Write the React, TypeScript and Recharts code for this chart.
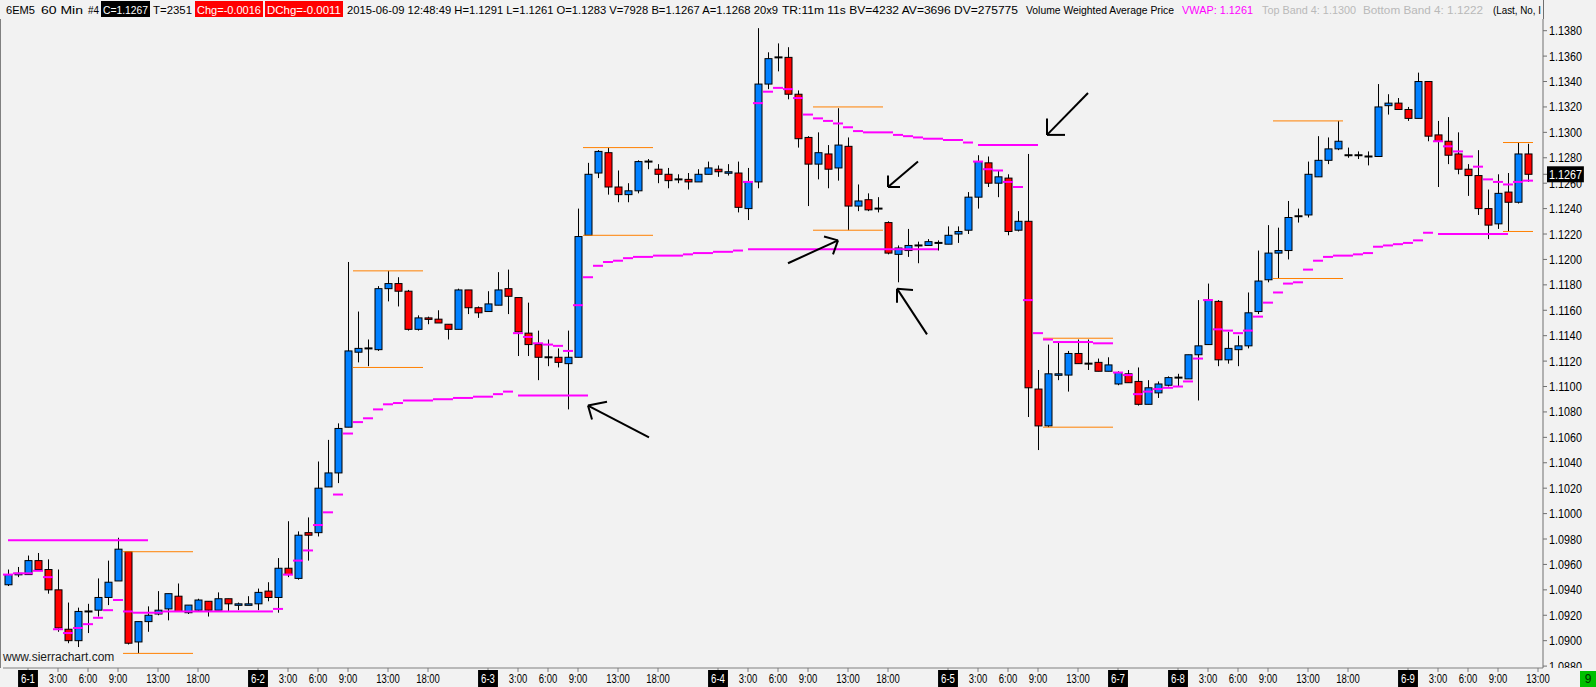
import React from "react";
import { ComposedChart, Bar, Line, XAxis, YAxis, ReferenceLine } from "recharts";

// ======================
// 6EM5 60 Min candles (bar 0 = 5-31 22:00, bar 152 = 6-9 12:00)
// ======================
const opens = [
  1.0944, 1.0952, 1.0952, 1.0963, 1.0956, 1.0940, 1.0909, 1.0900, 1.0923, 1.0924,
  1.0934, 1.0947, 1.0970, 1.0899, 1.0915, 1.0921, 1.0925, 1.0935, 1.0922, 1.0924,
  1.0931, 1.0924, 1.0933, 1.0928, 1.0928, 1.0929, 1.0939, 1.0934, 1.0957, 1.0949,
  1.0985, 1.0985, 1.1021, 1.1032, 1.1068, 1.1127, 1.1130, 1.1129, 1.1177, 1.1181,
  1.1175, 1.1145, 1.1154, 1.1153, 1.1149, 1.1145, 1.1176, 1.1162, 1.1159, 1.1164,
  1.1177, 1.1170, 1.1142, 1.1133, 1.1123, 1.1123, 1.1118, 1.1123, 1.1219, 1.1268,
  1.1284, 1.1257, 1.1251, 1.1254, 1.1277, 1.1271, 1.1267, 1.1263, 1.1263, 1.1261,
  1.1267, 1.1271, 1.1268, 1.1268, 1.1240, 1.1261, 1.1338, 1.1359, 1.1359, 1.1330,
  1.1296, 1.1275, 1.1283, 1.1272, 1.1289, 1.1242, 1.1247, 1.1240, 1.1229, 1.1204,
  1.1207, 1.1211, 1.1211, 1.1213, 1.1212, 1.1220, 1.1223, 1.1249, 1.1276, 1.1260,
  1.1264, 1.1223, 1.1230, 1.1098, 1.1069, 1.1109, 1.1109, 1.1126, 1.1118, 1.1119,
  1.1112, 1.1102, 1.1110, 1.1104, 1.1086, 1.1095, 1.1101, 1.1107, 1.1106, 1.1125,
  1.1133, 1.1167, 1.1121, 1.1129, 1.1132, 1.1159, 1.1184, 1.1205, 1.1207, 1.1234,
  1.1235, 1.1265, 1.1278, 1.1287, 1.1282, 1.1282, 1.1281, 1.1281, 1.1321, 1.1323,
  1.1318, 1.1311, 1.1340, 1.1298, 1.1293, 1.1283, 1.1271, 1.1266, 1.1240, 1.1228,
  1.1253, 1.1245, 1.1283,
];
const highs = [
  1.0956, 1.0958, 1.0967, 1.0969, 1.0964, 1.0956, 1.0930, 1.0926, 1.0929, 1.0949,
  1.0963, 1.0981, 1.0970, 1.0915, 1.0927, 1.0939, 1.0937, 1.0945, 1.0928, 1.0933,
  1.0931, 1.0938, 1.0933, 1.0930, 1.0935, 1.0941, 1.0946, 1.0965, 1.0994, 1.0986,
  1.0997, 1.1041, 1.1058, 1.1071, 1.1198, 1.1159, 1.1137, 1.1179, 1.1191, 1.1186,
  1.1176, 1.1156, 1.1155, 1.1160, 1.1149, 1.1177, 1.1176, 1.1163, 1.1175, 1.1190,
  1.1192, 1.1170, 1.1166, 1.1144, 1.1137, 1.1130, 1.1144, 1.1240, 1.1276, 1.1286,
  1.1288, 1.1270, 1.1260, 1.1278, 1.1279, 1.1275, 1.1272, 1.1267, 1.1268, 1.1271,
  1.1277, 1.1274, 1.1275, 1.1277, 1.1272, 1.1382, 1.1363, 1.1370, 1.1367, 1.1333,
  1.1297, 1.1300, 1.1290, 1.1319, 1.1296, 1.1259, 1.1252, 1.1249, 1.1230, 1.1211,
  1.1224, 1.1214, 1.1216, 1.1215, 1.1226, 1.1226, 1.1253, 1.1282, 1.1281, 1.1270,
  1.1267, 1.1238, 1.1283, 1.1113, 1.1133, 1.1135, 1.1128, 1.1137, 1.1137, 1.1122,
  1.1123, 1.1112, 1.1113, 1.1115, 1.1105, 1.1104, 1.1108, 1.1110, 1.1125, 1.1168,
  1.1181, 1.1168, 1.1143, 1.1140, 1.1174, 1.1207, 1.1227, 1.1225, 1.1246, 1.1240,
  1.1277, 1.1297, 1.1296, 1.1309, 1.1288, 1.1285, 1.1285, 1.1338, 1.1330, 1.1327,
  1.1320, 1.1347, 1.1340, 1.1309, 1.1312, 1.1300, 1.1275, 1.1286, 1.1255, 1.1267,
  1.1268, 1.1292, 1.1291,
];
const lows = [
  1.0943, 1.0950, 1.0952, 1.0956, 1.0937, 1.0907, 1.0898, 1.0895, 1.0906, 1.0919,
  1.0928, 1.0947, 1.0897, 1.0890, 1.0907, 1.0920, 1.0916, 1.0923, 1.0921, 1.0923,
  1.0919, 1.0924, 1.0923, 1.0924, 1.0928, 1.0924, 1.0931, 1.0922, 1.0950, 1.0948,
  1.0963, 1.0982, 1.1021, 1.1024, 1.1068, 1.1119, 1.1116, 1.1128, 1.1167, 1.1163,
  1.1144, 1.1144, 1.1149, 1.1150, 1.1137, 1.1145, 1.1157, 1.1154, 1.1159, 1.1164,
  1.1157, 1.1124, 1.1124, 1.1105, 1.1116, 1.1115, 1.1082, 1.1123, 1.1219, 1.1264,
  1.1251, 1.1245, 1.1245, 1.1252, 1.1271, 1.1260, 1.1256, 1.1260, 1.1255, 1.1261,
  1.1267, 1.1265, 1.1266, 1.1237, 1.1231, 1.1256, 1.1334, 1.1348, 1.1326, 1.1288,
  1.1242, 1.1263, 1.1256, 1.1262, 1.1223, 1.1238, 1.1238, 1.1237, 1.1204, 1.1182,
  1.1202, 1.1197, 1.1211, 1.1207, 1.1212, 1.1213, 1.1220, 1.1240, 1.1257, 1.1249,
  1.1219, 1.1222, 1.1076, 1.1050, 1.1068, 1.1105, 1.1096, 1.1118, 1.1113, 1.1112,
  1.1112, 1.1101, 1.1103, 1.1085, 1.1086, 1.1091, 1.1100, 1.1100, 1.1106, 1.1089,
  1.1133, 1.1116, 1.1118, 1.1116, 1.1130, 1.1157, 1.1182, 1.1185, 1.1200, 1.1229,
  1.1233, 1.1265, 1.1275, 1.1286, 1.1280, 1.1279, 1.1274, 1.1281, 1.1314, 1.1318,
  1.1309, 1.1311, 1.1293, 1.1257, 1.1275, 1.1267, 1.1250, 1.1235, 1.1216, 1.1224,
  1.1222, 1.1244, 1.1261,
];
const closes = [
  1.0952, 1.0953, 1.0963, 1.0956, 1.0940, 1.0910, 1.0900, 1.0923, 1.0923, 1.0934,
  1.0946, 1.0972, 1.0898, 1.0915, 1.0920, 1.0924, 1.0937, 1.0923, 1.0928, 1.0932,
  1.0924, 1.0933, 1.0929, 1.0929, 1.0929, 1.0938, 1.0934, 1.0957, 1.0952, 1.0983,
  1.0983, 1.1020, 1.1032, 1.1067, 1.1128, 1.1130, 1.1130, 1.1177, 1.1181, 1.1175,
  1.1145, 1.1154, 1.1153, 1.1150, 1.1145, 1.1176, 1.1162, 1.1158, 1.1165, 1.1176,
  1.1171, 1.1143, 1.1133, 1.1123, 1.1123, 1.1119, 1.1123, 1.1218, 1.1267, 1.1285,
  1.1257, 1.1251, 1.1254, 1.1277, 1.1277, 1.1267, 1.1262, 1.1263, 1.1261, 1.1267,
  1.1272, 1.1269, 1.1269, 1.1241, 1.1261, 1.1338, 1.1358, 1.1359, 1.1330, 1.1295,
  1.1275, 1.1284, 1.1271, 1.1290, 1.1242, 1.1246, 1.1239, 1.1240, 1.1205, 1.1209,
  1.1211, 1.1211, 1.1214, 1.1213, 1.1219, 1.1222, 1.1249, 1.1277, 1.1260, 1.1265,
  1.1222, 1.1230, 1.1099, 1.1069, 1.1110, 1.1110, 1.1126, 1.1118, 1.1118, 1.1112,
  1.1117, 1.1111, 1.1103, 1.1086, 1.1099, 1.1102, 1.1107, 1.1107, 1.1125, 1.1132,
  1.1168, 1.1121, 1.1130, 1.1132, 1.1158, 1.1183, 1.1205, 1.1207, 1.1233, 1.1234,
  1.1267, 1.1278, 1.1287, 1.1293, 1.1282, 1.1282, 1.1281, 1.1320, 1.1323, 1.1318,
  1.1311, 1.1340, 1.1297, 1.1293, 1.1282, 1.1271, 1.1266, 1.1240, 1.1227, 1.1252,
  1.1245, 1.1283, 1.1267,
];
// Volume Weighted Average Price, one dash per bar
const vwapValues = [
  1.0952, 1.0953, 1.0953, 1.0955, 1.0950, 1.0909, 1.0906, 1.0910, 1.0913, 1.0918,
  1.0924, 1.0932, 1.0923, 1.0922, 1.0922, 1.0922, 1.0923, 1.0923, 1.0923, 1.0923,
  1.0923, 1.0923, 1.0923, 1.0923, 1.0923, 1.0923, 1.0923, 1.0925, 1.0952, 1.0963,
  1.0971, 1.0991, 1.1001, 1.1015, 1.1063, 1.1072, 1.1075, 1.1082, 1.1086, 1.1087,
  1.1089, 1.1089, 1.1089, 1.1090, 1.1090, 1.1091, 1.1091, 1.1092, 1.1092, 1.1094,
  1.1096, 1.1142, 1.1139, 1.1134, 1.1133, 1.1132, 1.1128, 1.1164, 1.1186, 1.1195,
  1.1198, 1.1199, 1.1201, 1.1202, 1.1202, 1.1203, 1.1203, 1.1203, 1.1204, 1.1205,
  1.1205, 1.1206, 1.1206, 1.1207, 1.1261, 1.1323, 1.1332, 1.1335, 1.1334, 1.1327,
  1.1314, 1.1311, 1.1309, 1.1307, 1.1304, 1.1301, 1.1300, 1.1300, 1.1300, 1.1298,
  1.1297, 1.1296, 1.1295, 1.1295, 1.1294, 1.1294, 1.1292, 1.1277, 1.1271, 1.1270,
  1.1261, 1.1257, 1.1168, 1.1142, 1.1137, 1.1135, 1.1135, 1.1135, 1.1135, 1.1134,
  1.1134, 1.1111, 1.1109, 1.1094, 1.1096, 1.1098, 1.1099, 1.1100, 1.1104, 1.1122,
  1.1168, 1.1145, 1.1144, 1.1142, 1.1144, 1.1155, 1.1166, 1.1174, 1.1181, 1.1182,
  1.1192, 1.1199, 1.1202, 1.1203, 1.1203, 1.1204, 1.1205, 1.1210, 1.1211, 1.1212,
  1.1213, 1.1215, 1.1221, 1.1293, 1.1289, 1.1285, 1.1281, 1.1273, 1.1263, 1.1261,
  1.1259, 1.1261, 1.1262,
];

// prior session VWAP carried forward: [fromBar, toBar, price]
const vwapExtensions = [
  [0, 14, 1.0979],
  [51, 58, 1.1093],
  [74, 93, 1.1208],
  [97, 103, 1.129],
  [143, 150, 1.122],
];

// orange range lines: [firstBar, lastBar, high, low]
const rangeLines = [
  [12, 18, 1.097, 1.089],
  [35, 41, 1.1191, 1.1115],
  [58, 64, 1.1288, 1.1219],
  [81, 87, 1.132, 1.1223],
  [104, 110, 1.1138, 1.1068],
  [127, 133, 1.1309, 1.1185],
  [150, 152, 1.1292, 1.1222],
];

// hand drawn arrows: [tail, tip, head1, head2] as [bar, price]
const arrows = [
  [[64.1, 1.106], [58.0, 1.1085], [59.9, 1.1088], [58.4, 1.1074]],
  [[78.0, 1.1197], [83.0, 1.1215], [81.6, 1.1218], [82.5, 1.1204]],
  [[91.0, 1.1277], [88.0, 1.1257], [89.2, 1.1257], [88.0, 1.1266]],
  [[108.0, 1.1331], [103.9, 1.1298], [105.7, 1.1298], [103.9, 1.1311]],
  [[91.9, 1.1141], [88.9, 1.1177], [90.5, 1.1176], [88.9, 1.1166]],
];

const priceTicks = [
  1.088, 1.09, 1.092, 1.094, 1.096, 1.098, 1.1, 1.102, 1.104, 1.106, 1.108, 1.11, 1.112,
  1.114, 1.116, 1.118, 1.12, 1.122, 1.124, 1.126, 1.128, 1.13, 1.132, 1.134, 1.136, 1.138,
];
const lastClose = 1.1267;

const timeLabels: [number, string][] = [
  [2, "6-1"], [5, "3:00"], [8, "6:00"], [11, "9:00"], [15, "13:00"], [19, "18:00"],
  [25, "6-2"], [28, "3:00"], [31, "6:00"], [34, "9:00"], [38, "13:00"], [42, "18:00"],
  [48, "6-3"], [51, "3:00"], [54, "6:00"], [57, "9:00"], [61, "13:00"], [65, "18:00"],
  [71, "6-4"], [74, "3:00"], [77, "6:00"], [80, "9:00"], [84, "13:00"], [88, "18:00"],
  [94, "6-5"], [97, "3:00"], [100, "6:00"], [103, "9:00"], [107, "13:00"],
  [111, "6-7"],
  [117, "6-8"], [120, "3:00"], [123, "6:00"], [126, "9:00"], [130, "13:00"], [134, "18:00"],
  [140, "6-9"], [143, "3:00"], [146, "6:00"], [149, "9:00"], [153, "13:00"],
];

// header items: [x, width, text, color, box]
const headerItems: [number, number, string, string, string?][] = [
  [6, 29, "6EM5", "#000"],
  [41, 42, "60 Min", "#000"],
  [88, 11, "#4", "#000"],
  [101, 49, "C=1.1267", "#fff", "#000"],
  [153, 39, "T=2351", "#000"],
  [195, 68, "Chg=-0.0016", "#fff", "#f00"],
  [265, 78, "DChg=-0.0011", "#fff", "#f00"],
  [347, 431, "2015-06-09 12:48:49 H=1.1291 L=1.1261 O=1.1283 V=7928 B=1.1267 A=1.1268 20x9", "#000"],
  [782, 236, "TR:11m 11s BV=4232 AV=3696 DV=275775", "#000"],
  [1026, 148, "Volume Weighted Average Price", "#000"],
  [1182, 71, "VWAP: 1.1261", "#ff00ff"],
  [1262, 94, "Top Band 4: 1.1300", "#b9b9b9"],
  [1363, 120, "Bottom Band 4: 1.1222", "#b9b9b9"],
  [1493, 48, "(Last, No, I", "#000"],
];

const FONT = '"Liberation Sans", Arial, sans-serif';
const BG = "#f2f2f2";

// rough width of the narrow chart font
const textWidth = (s: string, digit: number) =>
  s.split("").reduce((w, ch) => {
    if (/[0-9]/.test(ch)) return w + digit;
    if (ch === "." || ch === ":") return w + digit * 0.48;
    if (ch === "-") return w + digit * 0.62;
    return w + digit;
  }, 0);

const data = Array.from({ length: 154 }, (_, i) => ({
  i,
  o: i < opens.length ? opens[i] : null,
  h: i < highs.length ? highs[i] : null,
  l: i < lows.length ? lows[i] : null,
  c: i < closes.length ? closes[i] : null,
  vwap: i < vwapValues.length ? vwapValues[i] : null,
}));

const Candle = (props: any) => {
  const { x, y, width, height, payload } = props;
  if (payload == null || payload.o == null) return <g />;
  const { o, h, l, c } = payload;
  const top = Math.min(y, y + height);
  const bot = Math.max(y, y + height);
  const span = h - l || 1e-9;
  const py = (v: number) => top + ((h - v) / span) * (bot - top);
  const cx = Math.round(x + width / 2) + 0.5;
  const bodyTop = py(Math.max(o, c));
  const bodyBot = py(Math.min(o, c));
  return (
    <g>
      <line x1={cx} x2={cx} y1={top} y2={bot} stroke="#000" strokeWidth={1} />
      {o === c ? (
        <line x1={cx - 4} x2={cx + 4} y1={py(o)} y2={py(o)} stroke="#000" strokeWidth={2} />
      ) : (
        <rect
          x={cx - 3.5}
          y={bodyTop}
          width={7}
          height={Math.max(1.5, bodyBot - bodyTop)}
          fill={c > o ? "#0080ff" : "#ff0000"}
          stroke="#000"
          strokeWidth={1}
        />
      )}
    </g>
  );
};

const VwapDash = (props: any) => {
  const { cx, cy, index } = props;
  if (cy == null || Number.isNaN(cy) || props.value == null) return <g key={`v${index}`} />;
  return <line key={`v${index}`} x1={cx - 5} x2={cx + 5} y1={cy} y2={cy} stroke="#ff00ff" strokeWidth={2} />;
};

const XTick = (props: any) => {
  const { x, y, payload } = props;
  const found = timeLabels.find((t) => t[0] === payload.value);
  if (!found) return <g />;
  const label = found[1];
  const w = textWidth(label, 5.3);
  const isDate = label.includes("-");
  return (
    <g>
      {isDate && <rect x={x - w / 2 - 3} y={y - 4} width={w + 6} height={17} fill="#000" />}
      <text
        x={x - w / 2}
        y={y + 9}
        textLength={w}
        lengthAdjust="spacingAndGlyphs"
        fontSize={12}
        fontFamily={FONT}
        fill={isDate ? "#fff" : "#000"}
      >
        {label}
      </text>
    </g>
  );
};

const YTick = (props: any) => {
  const { x, y, payload } = props;
  const v = payload.value;
  const label = v.toFixed(4);
  const w = textWidth(label, 6.0);
  const isLast = Math.abs(v - lastClose) < 1e-7;
  return (
    <g clipPath="url(#yaxisclip)">
      {isLast && <rect x={x - 2} y={y - 8} width={w + 4} height={16} fill="#000" />}
      <text
        x={x}
        y={y + 4.5}
        textLength={w}
        lengthAdjust="spacingAndGlyphs"
        fontSize={12.5}
        fontFamily={FONT}
        fill={isLast ? "#fff" : "#000"}
      >
        {label}
      </text>
    </g>
  );
};

export default function App() {
  return (
    <div style={{ position: "relative", width: 1596, height: 687, background: BG, overflow: "hidden" }}>
      <style>{`body{margin:0;background:${BG};}`}</style>
      <ComposedChart
        width={1596}
        height={687}
        data={data}
        margin={{ top: 19, right: 0, left: 3, bottom: 0 }}
      >
        <defs>
          <clipPath id="yaxisclip">
            <rect x={1543} y={0} width={53} height={668} />
          </clipPath>
        </defs>
        <XAxis
          type="number"
          dataKey="i"
          domain={[-0.5, 153.5]}
          allowDataOverflow
          ticks={timeLabels.map((t) => t[0])}
          interval={0}
          tick={<XTick />}
          tickSize={4}
          tickLine={{ stroke: "#808080" }}
          axisLine={{ stroke: "#808080" }}
          height={19}
        />
        <YAxis
          orientation="right"
          type="number"
          domain={[1.08785, 1.13892]}
          allowDataOverflow
          ticks={[...priceTicks, lastClose]}
          interval={0}
          tick={<YTick />}
          tickSize={4}
          tickLine={{ stroke: "#707070" }}
          axisLine={{ stroke: "#707070" }}
          width={53}
        />
        {vwapExtensions.map(([a, b, p], k) => (
          <ReferenceLine
            key={`ext${k}`}
            segment={[{ x: a, y: p }, { x: b, y: p }]}
            stroke="#ff00ff"
            strokeWidth={2}
          />
        ))}
        {rangeLines.map(([a, b, hi, lo], k) => (
          <React.Fragment key={`rng${k}`}>
            <ReferenceLine segment={[{ x: a - 0.5, y: hi }, { x: b + 0.5, y: hi }]} stroke="#ff8000" strokeWidth={1} />
            <ReferenceLine segment={[{ x: a - 0.5, y: lo }, { x: b + 0.5, y: lo }]} stroke="#ff8000" strokeWidth={1} />
          </React.Fragment>
        ))}
        <Bar
          dataKey={(d: any) => (d.o == null ? null : [d.l, d.h])}
          shape={<Candle />}
          barSize={8}
          isAnimationActive={false}
        />
        <Line
          dataKey="vwap"
          stroke="none"
          dot={VwapDash}
          activeDot={false}
          isAnimationActive={false}
        />
        {arrows.map(([tail, tip, h1, h2], k) => (
          <React.Fragment key={`arr${k}`}>
            <ReferenceLine segment={[{ x: tail[0], y: tail[1] }, { x: tip[0], y: tip[1] }]} stroke="#000" strokeWidth={2} />
            <ReferenceLine segment={[{ x: tip[0], y: tip[1] }, { x: h1[0], y: h1[1] }]} stroke="#000" strokeWidth={2} />
            <ReferenceLine segment={[{ x: tip[0], y: tip[1] }, { x: h2[0], y: h2[1] }]} stroke="#000" strokeWidth={2} />
          </React.Fragment>
        ))}
      </ComposedChart>

      {/* study / symbol header */}
      <svg style={{ position: "absolute", left: 0, top: 0 }} width={1543} height={19}>
        {headerItems.map(([x, w, t, color, box], k) => (
          <g key={k}>
            {box && <rect x={x} y={1} width={w} height={16} fill={box} />}
            <text
              x={box ? x + 2 : x}
              y={13.5}
              textLength={box ? w - 4 : w}
              lengthAdjust="spacingAndGlyphs"
              fontSize={11.5}
              fontFamily={FONT}
              fill={color}
            >
              {t}
            </text>
          </g>
        ))}
      </svg>
      <div style={{ position: "absolute", left: 1543, top: 0, width: 1, height: 19, background: "#707070" }} />
      <div style={{ position: "absolute", left: 0, top: 19, width: 1, height: 649, background: "#808080" }} />
      <div
        style={{
          position: "absolute",
          left: 3,
          top: 650,
          fontFamily: FONT,
          fontSize: 12,
          color: "#1a1a1a",
          lineHeight: "14px",
        }}
      >
        www.sierrachart.com
      </div>
      <div
        style={{
          position: "absolute",
          left: 1580,
          top: 671,
          width: 16,
          height: 16,
          background: "#00c000",
          color: "#003000",
          fontFamily: FONT,
          fontSize: 12,
          textAlign: "center",
          lineHeight: "16px",
        }}
      >
        9
      </div>
    </div>
  );
}
